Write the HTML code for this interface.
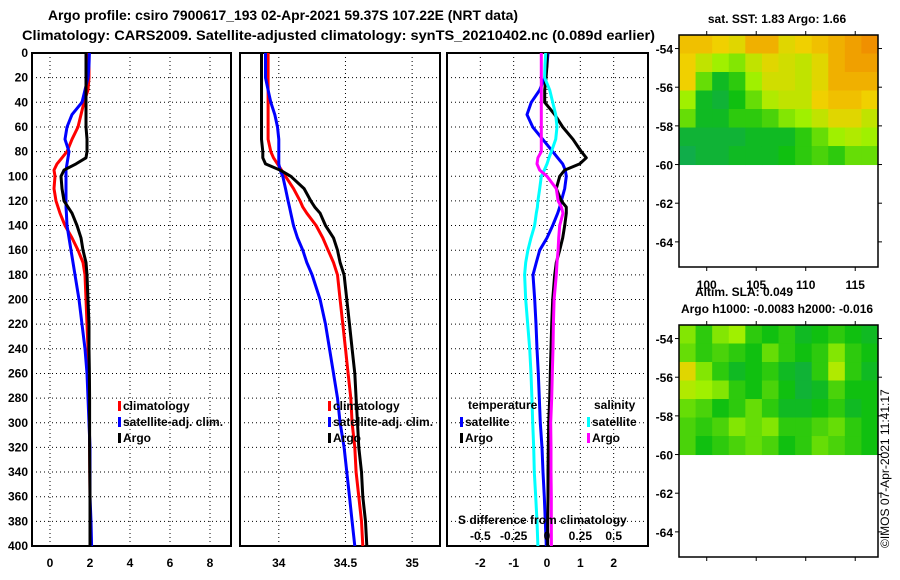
<!DOCTYPE html>
<html><head><meta charset="utf-8">
<style>
html,body{margin:0;padding:0;background:#fff;}
svg{display:block;font-family:"Liberation Sans",Arial,sans-serif;font-weight:bold;}
</style></head>
<body>
<svg id="chart" width="900" height="580" viewBox="0 0 900 580" xmlns="http://www.w3.org/2000/svg">
<text x="48" y="20" font-size="14" textLength="470" lengthAdjust="spacingAndGlyphs">Argo profile: csiro 7900617_193 02-Apr-2021 59.37S 107.22E (NRT data)</text>
<text x="22" y="40" font-size="14" textLength="633" lengthAdjust="spacingAndGlyphs">Climatology: CARS2009. Satellite-adjusted climatology: synTS_20210402.nc (0.089d earlier)</text>
<text x="777" y="23" font-size="12" text-anchor="middle">sat. SST: 1.83 Argo: 1.66</text>
<text x="744" y="296" font-size="12" text-anchor="middle">Altim. SLA: 0.049</text>
<text x="777" y="313" font-size="12" text-anchor="middle">Argo h1000: -0.0083 h2000: -0.016</text>
<text transform="translate(889,548) rotate(-90)" font-size="12" font-weight="normal">©IMOS 07-Apr-2021 11:41:17</text>
</svg>
<script>
// ---- data ----
const depths = [0,10,20,30,40,50,60,70,80,85,90,95,100,110,120,125,130,140,150,160,170,180,200,220,240,260,280,300,320,340,360,380,400];
const tempArgo = [1.8,1.8,1.8,1.8,1.8,1.8,1.8,1.85,1.85,1.8,1.3,0.7,0.55,0.6,0.7,0.9,1.1,1.35,1.55,1.65,1.8,1.85,1.9,1.95,1.95,1.97,1.98,1.98,1.98,1.99,2.0,2.0,2.0];
const tempClim = [1.95,1.95,1.95,1.9,1.7,1.55,1.4,1.1,0.85,0.6,0.35,0.2,0.25,0.2,0.3,0.4,0.5,0.75,1.1,1.4,1.65,1.75,1.8,1.85,1.9,1.92,1.95,1.97,1.98,1.99,2.0,2.0,2.0];
const tempSat = [1.97,1.95,1.9,1.75,1.6,1.1,0.85,0.75,0.95,0.9,0.85,0.8,0.8,0.8,0.8,0.8,0.82,0.85,0.95,1.05,1.15,1.25,1.45,1.6,1.75,1.85,1.9,1.95,2.0,2.0,2.0,2.05,2.08];
const salArgo = [33.87,33.87,33.87,33.87,33.87,33.87,33.87,33.87,33.88,33.88,33.9,34.01,34.09,34.19,34.24,34.27,34.31,34.35,34.41,34.44,34.46,34.49,34.51,34.53,34.55,34.57,34.58,34.59,34.6,34.62,34.63,34.65,34.66];
const salClim = [33.92,33.92,33.92,33.92,33.92,33.92,33.92,33.92,33.94,33.96,33.99,34.02,34.05,34.11,34.16,34.18,34.21,34.28,34.33,34.37,34.41,34.44,34.46,34.48,34.5,34.52,34.54,34.55,34.57,34.58,34.6,34.62,34.63];
const salSat = [33.9,33.9,33.9,33.92,33.94,33.97,33.99,34.0,34.0,34.0,34.0,34.01,34.03,34.05,34.07,34.08,34.09,34.11,34.14,34.18,34.21,34.25,34.31,34.35,34.38,34.41,34.44,34.46,34.49,34.51,34.53,34.55,34.57];
const dTempSat = [0.03,0,-0.07,-0.22,-0.47,-0.6,-0.43,-0.13,0.17,0.32,0.47,0.55,0.58,0.53,0.43,0.38,0.32,0.17,0,-0.22,-0.32,-0.42,-0.37,-0.33,-0.3,-0.26,-0.23,-0.2,-0.15,-0.12,-0.08,-0.05,-0.02];
const dTempArgo = [0,0,-0.03,-0.07,-0.07,0.23,0.47,0.78,1.03,1.18,0.98,0.53,0.38,0.28,0.43,0.58,0.58,0.53,0.47,0.38,0.28,0.23,0.17,0.14,0.12,0.1,0.08,0.05,0.04,0.03,0.03,0.02,0.02];
const dSalSat = [-0.01,-0.015,-0.018,0.02,0.043,0.065,0.075,0.065,0.033,0.015,0,-0.02,-0.043,-0.055,-0.068,-0.072,-0.08,-0.093,-0.12,-0.143,-0.16,-0.168,-0.16,-0.145,-0.13,-0.12,-0.113,-0.107,-0.1,-0.095,-0.085,-0.075,-0.068];
const dSalArgo = [-0.043,-0.043,-0.043,-0.043,-0.043,-0.043,-0.043,-0.043,-0.043,-0.068,-0.075,-0.055,0,0.07,0.083,0.108,0.12,0.095,0.088,0.083,0.075,0.07,0.053,0.048,0.045,0.04,0.035,0.028,0.03,0.03,0.032,0.032,0.033];
const depthTicks = [0,20,40,60,80,100,120,140,160,180,200,220,240,260,280,300,320,340,360,380,400];
const tempTicks = [0,2,4,6,8];
const salTicks = [34,34.5,35];
const diffTicks = [-2,-1,0,1,2];
const sdiffTicks = [-0.5,-0.25,0,0.25,0.5];
const sdiffTickLabels = ["-0.5","-0.25","0","0.25","0.5"];
const latTicks = [-54,-56,-58,-60,-62,-64];
const lonTicks = [100,105,110,115];
const sstGrid = [
 [0.8,0.8,0.75,0.7,0.85,0.85,0.7,0.75,0.8,0.85,0.9,0.95],
 [0.75,0.6,0.5,0.45,0.6,0.7,0.65,0.6,0.7,0.85,0.9,0.9],
 [0.75,0.4,0.2,0.3,0.5,0.65,0.65,0.6,0.7,0.85,0.85,0.85],
 [0.5,0.2,0.15,0.25,0.4,0.55,0.6,0.6,0.75,0.8,0.8,0.75],
 [0.4,0.2,0.2,0.3,0.3,0.35,0.45,0.5,0.6,0.7,0.7,0.6],
 [0.15,0.15,0.15,0.15,0.2,0.2,0.2,0.3,0.4,0.5,0.55,0.5],
 [0.1,0.15,0.15,0.2,0.2,0.2,0.25,0.3,0.35,0.3,0.4,0.4]];
const slaGrid = [
 [0.45,0.3,0.45,0.5,0.3,0.25,0.3,0.2,0.25,0.3,0.25,0.2],
 [0.4,0.3,0.35,0.3,0.25,0.4,0.3,0.25,0.3,0.45,0.3,0.25],
 [0.7,0.45,0.3,0.2,0.25,0.3,0.2,0.15,0.3,0.55,0.3,0.2],
 [0.55,0.5,0.45,0.3,0.25,0.35,0.25,0.15,0.2,0.35,0.25,0.25],
 [0.4,0.35,0.25,0.3,0.4,0.3,0.2,0.2,0.25,0.3,0.2,0.25],
 [0.35,0.3,0.35,0.45,0.4,0.45,0.3,0.3,0.35,0.4,0.3,0.25],
 [0.35,0.25,0.3,0.35,0.4,0.35,0.25,0.3,0.4,0.35,0.3,0.25]];

// ---- helpers ----
const NS = "http://www.w3.org/2000/svg";
const svg = document.getElementById("chart");
function mk(tag, attrs, parent){const e=document.createElementNS(NS,tag);for(const k in attrs)e.setAttribute(k,attrs[k]);(parent||svg).appendChild(e);return e;}
const Y0=53, Y1=546;
const yD = d => Y0 + (d/400)*(Y1-Y0);

function panel(name, left, right, dmin, dmax, ticks, tickLabels, showDepth){
  const g = mk("g",{});
  
  
  const x = v => left + (v-dmin)/(dmax-dmin)*(right-left);
  depthTicks.forEach((d,i)=>{
    if(i>0 && i<depthTicks.length-1){
      const l=mk("line",{x1:left,x2:right,y1:yD(d),y2:yD(d),stroke:"#000","stroke-width":1,"stroke-dasharray":"1,3"},g);
      
      
    }
    if(showDepth){
      const t=mk("text",{x:28,y:yD(d)+4,"font-size":12,"text-anchor":"end"},g);
      
      
      t.textContent=d;
    }
  });
  ticks.forEach((v,i)=>{
    const l=mk("line",{x1:x(v),x2:x(v),y1:Y0,y2:Y1,stroke:"#000","stroke-width":1,"stroke-dasharray":"1,3"},g);
    
    
    const t=mk("text",{x:x(v),y:567,"font-size":12,"text-anchor":"middle"},g);
    
    
    t.textContent=tickLabels[i];
  });
  const r=mk("rect",{x:left,y:Y0,width:right-left,height:Y1-Y0,fill:"none",stroke:"#000","stroke-width":2},g);
  
  
  return {g,x};
}
function line(p, vals, color, name, mult){
  const pts = vals.map((v,i)=>p.x(v*(mult||1)).toFixed(1)+","+yD(depths[i]).toFixed(1)).join(" ");
  const l=mk("polyline",{points:pts,fill:"none",stroke:color,"stroke-width":3,"stroke-linejoin":"round"},p.g);
  
  
}
function legend(g, x, y, color, label, name){
  const r=mk("rect",{x:x,y:y-9,width:3,height:10,fill:color},g);
  
  
  const t=mk("text",{x:x+5,y:y,"font-size":12},g);
  
  
  t.textContent=label;
}

// Panel 1 temperature
const p1 = panel("temperature-panel",32,231,-0.9,9.05,tempTicks,tempTicks.map(String),true);
line(p1,tempClim,"#ff0000","temp-climatology-line");
line(p1,tempSat,"#0000ff","temp-satellite-adj-line");
line(p1,tempArgo,"#000000","temp-argo-line");
legend(p1.g,118,410,"#ff0000","climatology","legend-climatology");
legend(p1.g,118,426,"#0000ff","satellite-adj. clim.","legend-satellite-adj");
legend(p1.g,118,442,"#000000","Argo","legend-argo");

// Panel 2 salinity
const p2 = panel("salinity-panel",240,440,33.709,35.209,salTicks,salTicks.map(String),false);
line(p2,salClim,"#ff0000","sal-climatology-line");
line(p2,salSat,"#0000ff","sal-satellite-adj-line");
line(p2,salArgo,"#000000","sal-argo-line");
legend(p2.g,328,410,"#ff0000","climatology","legend-climatology");
legend(p2.g,328,426,"#0000ff","satellite-adj. clim.","legend-satellite-adj");
legend(p2.g,328,442,"#000000","Argo","legend-argo");

// Panel 3 differences
const p3 = panel("difference-panel",447,648,-3.0,3.03,diffTicks,diffTicks.map(String),false);
line(p3,dTempSat,"#0000ff","temp-diff-satellite-line");
line(p3,dTempArgo,"#000000","temp-diff-argo-line");
line(p3,dSalSat,"#00ffff","sal-diff-satellite-line",4);
line(p3,dSalArgo,"#ff00ff","sal-diff-argo-line",4);
{
  const t1=mk("text",{x:468,y:409,"font-size":12},p3.g); t1.textContent="temperature";
  
  
  const t2=mk("text",{x:594,y:409,"font-size":12},p3.g); t2.textContent="salinity";
  
  
  legend(p3.g,460,426,"#0000ff","satellite","legend-temp-satellite");
  legend(p3.g,460,442,"#000000","Argo","legend-temp-argo");
  legend(p3.g,587,426,"#00ffff","satellite","legend-sal-satellite");
  legend(p3.g,587,442,"#ff00ff","Argo","legend-sal-argo");
  const t3=mk("text",{x:458,y:524,"font-size":12},p3.g); t3.textContent="S difference from climatology";
  
  
  sdiffTicks.forEach((v,i)=>{
    const t=mk("text",{x:p3.x(v*4),y:540,"font-size":12,"text-anchor":"middle"},p3.g);
    
    
    t.textContent=sdiffTickLabels[i];
  });
}

// Maps
function cmap(v){
  const stops=[[0,[16,160,112]],[0.25,[16,192,16]],[0.5,[160,240,0]],[0.75,[240,208,0]],[1,[240,128,0]]];
  for(let i=1;i<stops.length;i++){ if(v<=stops[i][0]){const a=stops[i-1],b=stops[i];const t=(v-a[0])/(b[0]-a[0]);
    return "rgb("+a[1].map((c,j)=>Math.round(c+(b[1][j]-c)*t)).join(",")+")";}}
  return "rgb(240,128,0)";
}
function map(name, top, bottom, grid, showLon){
  const L=679,R=878;
  const g=mk("g",{});
  
  
  const latY = lat => top + (-53.3-lat)/(-53.3+65.3)*(bottom-top);
  const lonX = lon => L + (lon-97.2)/(117.3-97.2)*(R-L);
  const y60 = latY(-60);
  const rows=grid.length, cols=grid[0].length;
  const ch=(y60-top)/rows, cw=(R-L)/cols;
  grid.forEach((row,r)=>row.forEach((v,c)=>{
    const cell=mk("rect",{x:L+c*cw,y:top+r*ch,width:cw+0.5,height:ch+0.5,fill:cmap(v)},g);
    
    
  }));
  const f=mk("rect",{x:L,y:top,width:R-L,height:bottom-top,fill:"none",stroke:"#000","stroke-width":1.5},g);
  
  
  latTicks.forEach(lat=>{
    mk("line",{x1:L-4,x2:L,y1:latY(lat),y2:latY(lat),stroke:"#000"},g);
    mk("line",{x1:R,x2:R+4,y1:latY(lat),y2:latY(lat),stroke:"#000"},g);
    const t=mk("text",{x:673,y:latY(lat)+5,"font-size":12,"text-anchor":"end"},g);
    
    
    t.textContent=lat;
  });
  lonTicks.forEach(lon=>{
    mk("line",{x1:lonX(lon),x2:lonX(lon),y1:bottom,y2:bottom+4,stroke:"#000"},g);
    mk("line",{x1:lonX(lon),x2:lonX(lon),y1:top-4,y2:top,stroke:"#000"},g);
    if(showLon){
      const t=mk("text",{x:lonX(lon),y:289,"font-size":12,"text-anchor":"middle"},g);
      
      
      t.textContent=lon;
    }
  });
}
map("sst-map",35,267,sstGrid,true);
map("sla-map",325,557,slaGrid,false);
</script>
</body></html>
